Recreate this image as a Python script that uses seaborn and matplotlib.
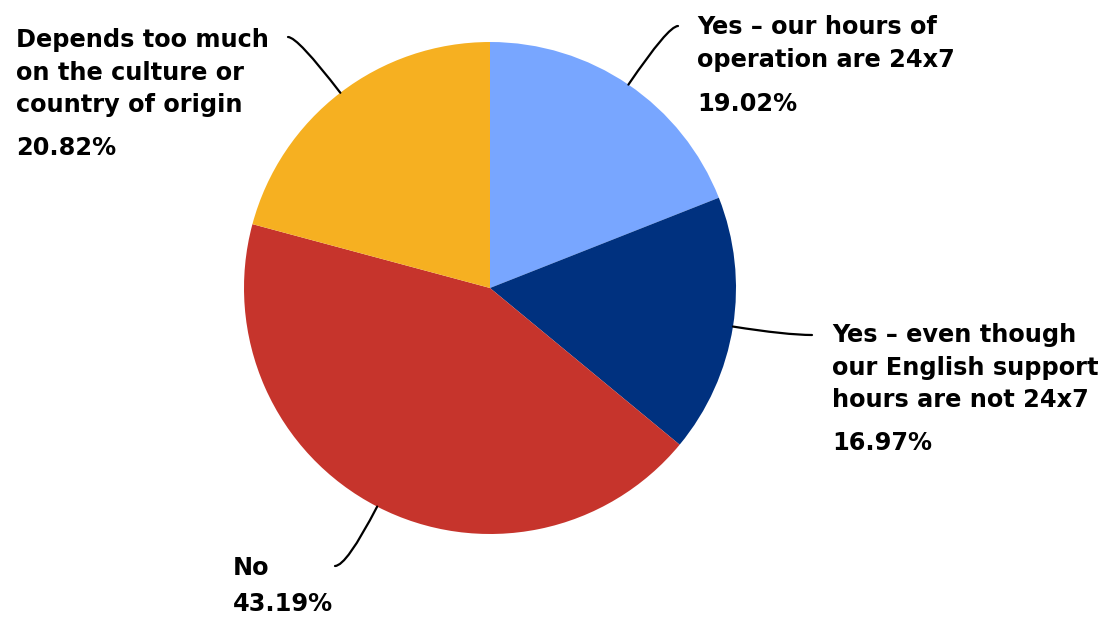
import numpy as np
import matplotlib.pyplot as plt
import seaborn as sns

# data
labels = [
    "Yes – our hours of\noperation are 24x7",
    "Yes – even though\nour English support\nhours are not 24x7",
    "No",
    "Depends too much\non the culture or\ncountry of origin",
]
shares = [19.02, 16.97, 43.19, 20.82]
colors = ["#78A6FF", "#00317F", "#C6342C", "#F6B021"]

# layout (pixels, origin top-left)
W, H = 1118, 624
cx, cy, r = 490, 288, 246
label_pos = [(697, 15), (832, 323), (233, 556), (16, 28)]
pct_pos = [(697, 92), (832, 431), (233, 592), (16, 136)]
line_end = [(678, 26), (812, 335), (335, 566), (288, 37)]

sns.set_theme(style="white")
plt.rcParams['font.family'] = ['DejaVu Sans']

fig = plt.figure(figsize=(W / 100, H / 100), dpi=100)
ax = fig.add_axes([0, 0, 1, 1])

wedges, _ = ax.pie(shares, colors=colors, startangle=90, counterclock=False,
                   center=(cx, H - cy), radius=r,
                   wedgeprops=dict(linewidth=0))
ax.set_xlim(0, W)
ax.set_ylim(0, H)
ax.set_aspect("equal")
ax.axis("off")

fs = 17.3
for w, lab, pct, lp, pp, le in zip(wedges, labels, shares, label_pos, pct_pos, line_end):
    mid = (w.theta1 + w.theta2) / 2
    px = cx + r * np.cos(np.radians(mid))
    py = (H - cy) + r * np.sin(np.radians(mid))
    ax.annotate("", xy=(px, py), xytext=(le[0], H - le[1]),
                arrowprops=dict(arrowstyle="-", color="black", lw=1.6,
                                shrinkA=0, shrinkB=0,
                                connectionstyle=f"angle3,angleA=0,angleB={mid}"))
    ax.text(lp[0], H - lp[1], lab, ha="left", va="top", fontsize=fs,
            fontweight="bold", linespacing=1.45, color="black")
    ax.text(pp[0], H - pp[1], f"{pct:.2f}%", ha="left", va="top", fontsize=fs,
            fontweight="bold", color="black")

fig.savefig("out.png", dpi=100)
